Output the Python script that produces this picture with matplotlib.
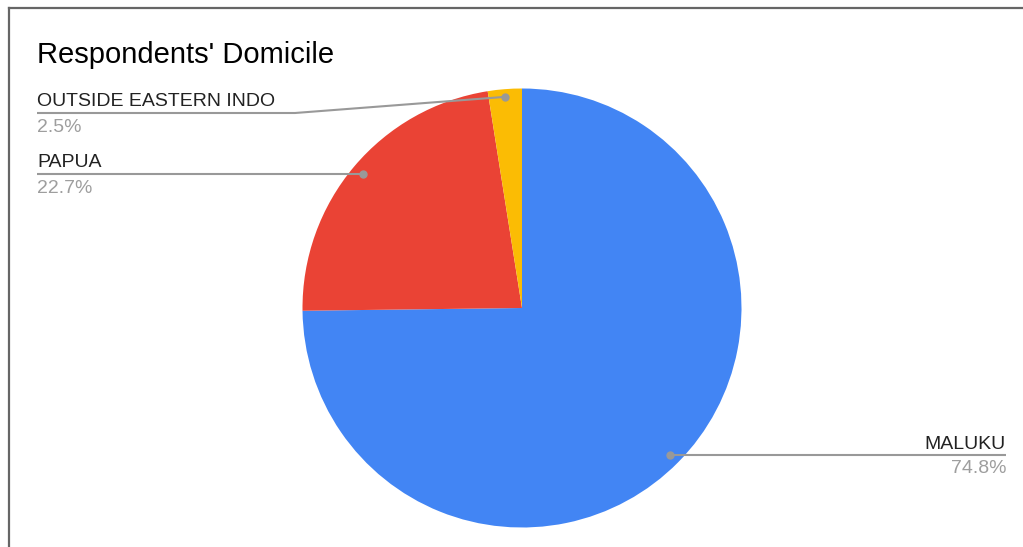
import numpy as np
import matplotlib.pyplot as plt
from matplotlib.lines import Line2D

# Respondents' domicile shares (percent)
regions = ["MALUKU", "PAPUA", "OUTSIDE EASTERN INDO"]
shares = [74.8, 22.7, 2.5]
colors = ["#4285F4", "#EA4335", "#FBBC04"]

W, H = 1023, 547
plt.rcParams['font.family'] = ['Liberation Sans', 'DejaVu Sans']

fig = plt.figure(figsize=(W / 100, H / 100), dpi=100)
ax = fig.add_axes([0, 0, 1, 1])

cx, cy, r = 522, H - 308, 219.5
wedges, _ = ax.pie(shares, colors=colors, startangle=90, counterclock=False,
                   center=(cx, cy), radius=r, frame=True,
                   wedgeprops=dict(linewidth=0))
ax.set_xlim(0, W)
ax.set_ylim(0, H)
ax.set_aspect('equal')
ax.axis('off')

line_c = "#999999"
name_c = "#222222"
pct_c = "#9e9e9e"
fs = 14


def anchor(w, frac=0.95):
    a = np.deg2rad((w.theta1 + w.theta2) / 2)
    return cx + r * frac * np.cos(a), cy + r * frac * np.sin(a)


# MALUKU label (right side)
x0, y0 = anchor(wedges[0])
ax.plot([x0, 1006], [y0, y0], color=line_c, lw=1.5, solid_capstyle='butt')
ax.plot(x0, y0, 'o', color=line_c, ms=5)
ax.text(1006, y0 + 6, regions[0], ha='right', va='baseline', fontsize=fs, color=name_c)
ax.text(1006, y0 - 18, f"{shares[0]}%", ha='right', va='baseline', fontsize=fs, color=pct_c)

# PAPUA label (left side)
x1, y1 = anchor(wedges[1])
ax.plot([37, x1], [y1, y1], color=line_c, lw=1.5, solid_capstyle='butt')
ax.plot(x1, y1, 'o', color=line_c, ms=5)
ax.text(37, y1 + 7, regions[1], ha='left', va='baseline', fontsize=fs, color=name_c)
ax.text(37, y1 - 19, f"{shares[1]}%", ha='left', va='baseline', fontsize=fs, color=pct_c)

# OUTSIDE EASTERN INDO label (left side, bent leader)
x2, y2 = anchor(wedges[2], 0.965)
ly = H - 113
ax.plot([37, 295, x2], [ly, ly, y2], color=line_c, lw=1.5, solid_capstyle='butt')
ax.plot(x2, y2, 'o', color=line_c, ms=5)
ax.text(37, ly + 7, regions[2], ha='left', va='baseline', fontsize=fs, color=name_c)
ax.text(37, ly - 19, f"{shares[2]}%", ha='left', va='baseline', fontsize=fs, color=pct_c)

# Title
ax.text(37, H - 63, "Respondents' Domicile", ha='left', va='baseline',
        fontsize=21, color="#000000")

# Frame edges (top and left)
fig.add_artist(Line2D([8.5 / W, 1.0], [1 - 7.5 / H, 1 - 7.5 / H],
                      transform=fig.transFigure, color="#666666", lw=1.6))
fig.add_artist(Line2D([8.5 / W, 8.5 / W], [0, 1 - 7.5 / H],
                      transform=fig.transFigure, color="#666666", lw=1.6))

fig.savefig("out.png", dpi=100)
